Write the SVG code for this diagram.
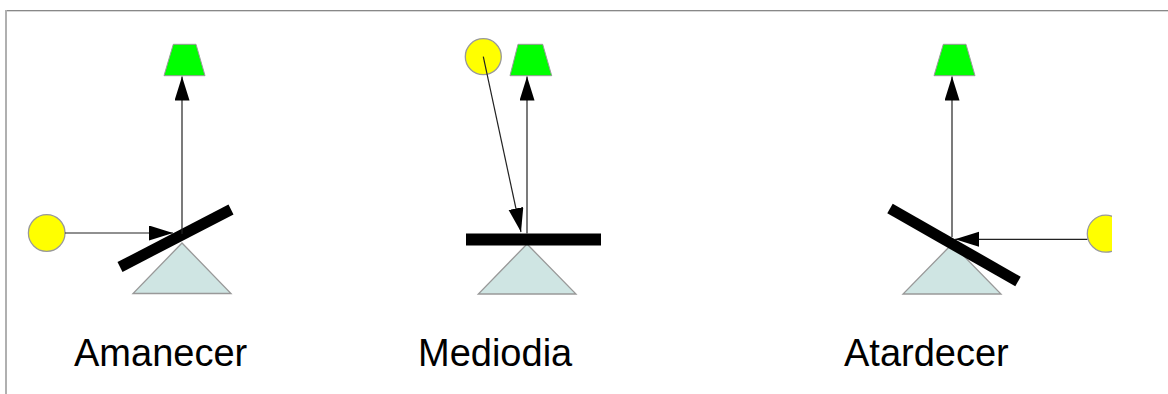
<svg xmlns="http://www.w3.org/2000/svg" width="1168" height="394" viewBox="0 0 1168 394">
  <style>
    .lamp { fill: #00ff00; stroke: #999999; stroke-width: 1; }
    .sun { fill: #ffff00; stroke: #999999; stroke-width: 1.3; }
    .base { fill: #cfe5e3; stroke: #999999; stroke-width: 1.3; }
    .mirror { stroke: #000000; stroke-width: 11; stroke-linecap: butt; fill: none; }
    .ray { stroke: #222222; stroke-width: 1.2; fill: none; marker-end: url(#arrow); }
    .label { font-family: "Liberation Sans", Arial, sans-serif; font-size: 38px; fill: #000000; }
  </style>
  <defs>
    <marker id="arrow" markerUnits="userSpaceOnUse" markerWidth="26" markerHeight="16" refX="24" refY="7.5" orient="auto">
      <path d="M0,0 L24,7.5 L0,15 z" fill="#000000"/>
    </marker>
    <clipPath id="clipRight">
      <rect x="0" y="0" width="1112" height="394"/>
    </clipPath>
  </defs>
  <rect x="0" y="0" width="1168" height="394" fill="#ffffff"/>
  <g id="frame">
    <line x1="6" y1="10.5" x2="1168" y2="10.5" stroke="#888888" stroke-width="1"/>
    <line x1="6" y1="11.5" x2="1168" y2="11.5" stroke="#d8d8d8" stroke-width="1"/>
    <line x1="6" y1="10" x2="6" y2="394" stroke="#b0b0b0" stroke-width="2"/>
  </g>

  <g id="amanecer">
    <polygon class="base" points="182,243 133,293.5 231,293.5"/>
    <line class="mirror" x1="120" y1="267" x2="231" y2="209.5"/>
    <polygon class="lamp" points="173.3,44.3 196,44.3 205,75.7 164,75.7"/>
    <circle class="sun" cx="46.7" cy="233" r="18.3"/>
    <text class="label" x="74" y="366">Amanecer</text>
  </g>

  <g id="mediodia">
    <polygon class="base" points="527,244 478.3,294 576,294"/>
    <rect x="466" y="233.5" width="135" height="12" fill="#000000"/>
    <polygon class="lamp" points="518,44.3 542.7,44.3 551.7,75.7 510,75.7"/>
    <circle class="sun" cx="483.3" cy="56.7" r="18"/>
    <text class="label" x="418" y="366">Mediodia</text>
  </g>

  <g id="atardecer">
    <polygon class="base" points="952,244 903,294 1001,294"/>
    <line class="mirror" x1="890" y1="208.5" x2="1018" y2="281.5"/>
    <polygon class="lamp" points="943.3,44.3 966,44.3 975,75.7 934,75.7"/>
    <circle class="sun" cx="1105.8" cy="233.7" r="18.5" clip-path="url(#clipRight)"/>
    <text class="label" x="844" y="366">Atardecer</text>
  </g>

  <g id="connectors">
    <line class="ray" x1="65" y1="233" x2="173" y2="233"/>
    <line class="ray" x1="182" y1="234" x2="182" y2="76.5"/>
    <line class="ray" x1="483.3" y1="56.7" x2="521" y2="232"/>
    <line class="ray" x1="527" y1="233.5" x2="527" y2="76.5"/>
    <line class="ray" x1="1087.3" y1="239.3" x2="955" y2="239.3"/>
    <line class="ray" x1="952" y1="237" x2="952" y2="76.5"/>
  </g>
</svg>
